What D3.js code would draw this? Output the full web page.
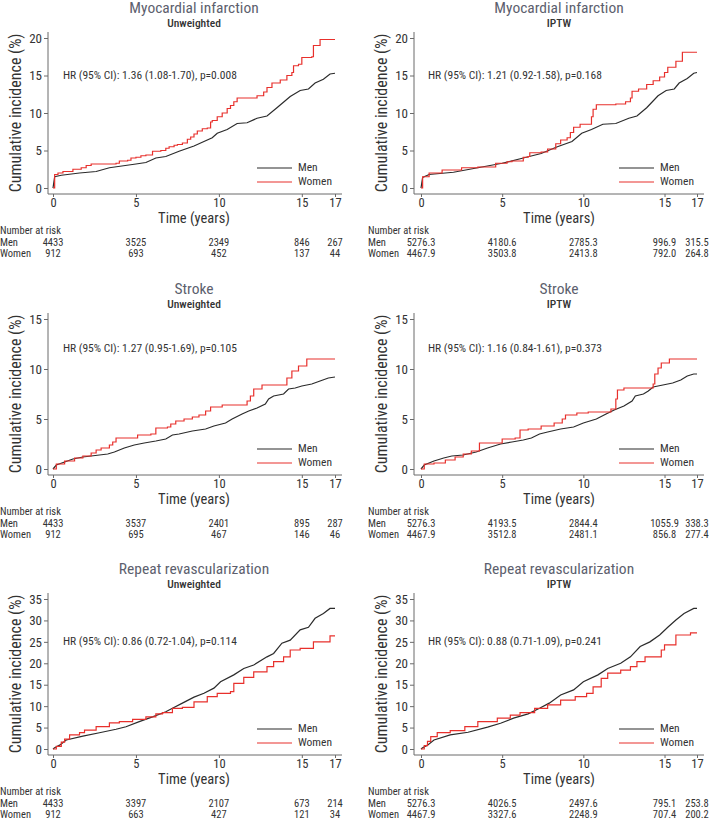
<!DOCTYPE html>
<html><head><meta charset="utf-8">
<script src="https://cdn.jsdelivr.net/npm/d3@7"></script>
<style>
body{margin:0;background:#fff}
text{font-family:"Roboto Condensed","Liberation Sans Narrow","Arial Narrow",Roboto,sans-serif}
</style></head>
<body><svg id="c" width="709" height="820"></svg>
<script>
const groups = ["Men","Women"];
const xTicks = [0,5,10,15,17];
const riskTimes = [0,5,10,15,17];
const titles = ["Myocardial infarction","Stroke","Repeat revascularization"];
const subtitles = ["Unweighted","IPTW"];
const yMaxes = [20,15,35];
const hrTexts = [
  "HR (95% CI): 1.36 (1.08-1.70), p=0.008","HR (95% CI): 1.21 (0.92-1.58), p=0.168",
  "HR (95% CI): 1.27 (0.95-1.69), p=0.105","HR (95% CI): 1.16 (0.84-1.61), p=0.373",
  "HR (95% CI): 0.86 (0.72-1.04), p=0.114","HR (95% CI): 0.88 (0.71-1.09), p=0.241"];
const hrY = [15,12,25];

const miUnwMen = [[0,0],[0.1,1.5],[0.5,1.7],[1.6,2.0],[2.6,2.2],[3.4,2.7],[5.0,3.2],[5.6,3.4],[6.2,4.0],[6.8,4.2],[7.6,4.9],[8.5,5.6],[9.1,6.2],[9.6,6.7],[9.9,7.3],[10.5,7.8],[11.1,8.6],[11.7,8.7],[12.3,9.3],[12.9,9.6],[13.5,10.7],[14.3,12.2],[14.9,13.0],[15.4,13.2],[15.8,14.0],[16.3,14.5],[16.7,15.2],[17,15.3]];
const miUnwWomen = [[0,0],[0.1,1.8],[0.3,2.0],[0.6,2.2],[1.2,2.5],[1.7,2.7],[2.0,3.0],[2.3,3.2],[3.8,3.3],[4.0,3.6],[4.5,3.7],[4.7,4.0],[5.0,4.1],[5.3,4.3],[5.6,4.4],[6.0,4.9],[6.5,5.0],[6.8,5.3],[7.0,5.5],[7.3,5.7],[7.5,5.8],[7.8,6.0],[8.1,6.5],[8.3,6.8],[8.5,7.2],[8.7,7.6],[9.0,7.9],[9.3,8.0],[9.5,8.8],[9.6,9.0],[9.9,9.5],[10.2,10.0],[10.5,10.6],[10.7,11.0],[10.9,11.5],[11.1,12.0],[12.0,12.0],[12.3,12.3],[12.7,12.8],[12.9,13.4],[13.2,14.0],[13.7,14.4],[14.1,15.0],[14.4,15.4],[14.5,16.3],[14.8,16.5],[15.0,17.4],[15.6,17.5],[15.7,19.0],[16.1,19.8],[17,19.8]];
const miIpMen = [[0,0],[0.1,1.4],[0.5,1.8],[2.0,2.1],[3.5,2.7],[5.0,3.3],[6.3,4.0],[7.4,4.6],[8.4,5.5],[9.3,6.2],[9.9,7.3],[10.5,7.8],[11.2,8.5],[12.0,8.6],[12.8,9.3],[13.3,9.6],[13.9,10.7],[14.6,12.3],[15.1,13.0],[15.6,13.2],[15.9,14.0],[16.4,14.6],[16.8,15.3],[17,15.4]];
const miIpWomen = [[0,0],[0.1,1.5],[0.5,2.0],[1.3,2.4],[2.5,2.7],[3.5,2.8],[4.6,3.3],[5.3,3.5],[5.6,3.6],[6.3,4.1],[6.6,4.2],[6.7,4.7],[7.4,4.8],[7.8,5.2],[8.3,5.9],[8.6,6.4],[9.0,6.7],[9.2,7.4],[9.4,8.1],[9.8,8.5],[10.5,9.5],[10.6,10.5],[10.8,11.1],[12.0,11.2],[12.6,11.5],[12.9,12.0],[13.0,12.9],[13.4,13.2],[13.9,13.8],[14.3,14.3],[14.7,14.8],[15.0,15.4],[15.2,16.1],[15.7,16.9],[16.1,18.1],[17,18.1]];
const strUnwMen = [[0,0],[0.2,0.4],[0.7,0.7],[1.2,1.0],[1.8,1.2],[2.8,1.4],[3.3,1.5],[3.7,1.7],[4.3,2.1],[4.9,2.4],[5.5,2.6],[6.2,2.8],[6.8,3.0],[7.2,3.4],[7.6,3.5],[8.4,3.8],[9.2,4.0],[9.7,4.3],[10.4,4.6],[10.8,5.0],[11.4,5.5],[11.8,5.8],[12.3,6.1],[12.8,6.5],[13.0,7.0],[13.3,7.3],[13.9,7.5],[14.2,8.0],[14.6,8.1],[15.0,8.3],[15.6,8.5],[16.1,8.8],[16.6,9.1],[17,9.2]];
const strUnwWomen = [[0,0],[0.2,0.5],[0.7,0.8],[1.3,1.1],[1.8,1.3],[2.3,1.6],[2.6,1.9],[2.9,2.1],[3.4,2.4],[3.6,2.7],[3.8,3.1],[5.1,3.4],[5.9,3.5],[6.2,4.1],[6.9,4.2],[7.1,4.5],[7.4,4.8],[7.9,5.0],[8.4,5.2],[8.8,5.4],[9.2,5.8],[9.5,6.2],[10.2,6.4],[11.7,6.8],[11.9,7.3],[12.1,8.0],[12.6,8.4],[14.1,9.1],[14.4,9.8],[14.8,10.3],[15.3,11.0],[17,11.0]];
const strIpMen = [[0,0],[0.2,0.4],[0.8,0.8],[1.4,1.1],[1.9,1.3],[2.6,1.4],[3.4,1.7],[4.1,2.1],[4.9,2.5],[5.6,2.7],[6.3,2.9],[6.8,3.1],[7.3,3.5],[7.8,3.7],[8.6,4.0],[9.4,4.2],[10.0,4.6],[10.8,5.0],[11.4,5.5],[11.9,5.9],[12.5,6.3],[13.0,6.8],[13.2,7.3],[13.7,7.5],[14.0,7.8],[14.3,8.2],[14.9,8.4],[15.5,8.6],[16.0,8.9],[16.4,9.3],[16.8,9.5],[17,9.5]];
const strIpWomen = [[0,0],[0.2,0.5],[0.8,0.6],[1.5,0.9],[2.1,1.2],[2.6,1.5],[3.1,1.8],[3.6,2.6],[5.0,3.0],[5.8,3.1],[6.1,3.9],[6.6,4.0],[7.4,4.3],[8.2,4.6],[8.7,5.0],[8.9,5.4],[9.6,5.6],[10.3,5.7],[11.7,6.0],[12.0,7.0],[12.1,7.9],[12.5,8.1],[14.3,8.5],[14.4,9.5],[14.6,10.1],[14.8,10.6],[15.3,11.0],[17,11.0]];
const revUnwMen = [[0,0],[0.1,0.3],[0.4,0.9],[0.8,2.1],[1.8,3.0],[2.8,3.8],[3.8,4.6],[4.4,5.2],[5.2,6.4],[6.0,7.5],[6.8,8.7],[7.2,9.5],[7.8,10.7],[8.5,12.1],[9.1,13.0],[9.7,14.2],[10.1,15.7],[10.9,17.3],[11.5,18.8],[12.1,19.6],[12.9,21.5],[13.3,22.3],[13.8,24.7],[14.3,25.4],[14.9,27.8],[15.4,28.4],[15.8,30.5],[16.3,31.6],[16.7,32.8],[17,32.8]];
const revUnwWomen = [[0,0],[0.2,0.6],[0.5,1.6],[0.7,2.3],[1.0,3.3],[1.6,3.8],[1.9,4.4],[2.6,5.2],[3.4,6.1],[4.0,6.4],[4.8,6.9],[5.6,7.5],[6.2,8.2],[6.6,8.5],[7.2,9.5],[7.8,9.7],[8.5,11.0],[9.3,12.2],[9.9,13.0],[10.7,13.4],[10.9,15.3],[11.5,16.7],[12.1,18.0],[12.9,19.2],[13.3,20.4],[13.9,21.5],[14.3,23.1],[14.9,23.5],[15.7,25.0],[16.7,26.4],[17,26.4]];
const revIpMen = [[0,0],[0.1,0.3],[0.4,0.9],[0.8,2.1],[1.8,3.3],[2.9,3.9],[4.1,5.1],[4.9,6.0],[5.7,7.2],[6.6,8.2],[7.3,9.5],[7.9,10.7],[8.6,12.6],[9.4,13.8],[10.0,15.7],[10.9,17.3],[11.5,18.8],[12.3,20.0],[12.9,21.5],[13.5,23.9],[14.1,25.0],[14.7,26.6],[15.2,28.4],[15.7,30.1],[16.2,31.6],[16.8,32.8],[17,32.8]];
const revIpWomen = [[0,0],[0.2,0.8],[0.4,1.8],[0.6,2.9],[1.0,3.8],[1.8,4.3],[2.7,5.2],[3.5,6.4],[4.7,7.2],[5.5,7.9],[6.1,8.5],[7.0,9.5],[7.8,10.3],[8.6,11.4],[9.5,12.2],[10.2,13.0],[10.6,14.5],[11.1,16.5],[11.5,17.7],[12.3,18.4],[12.9,19.2],[13.3,20.4],[13.8,21.5],[14.8,23.1],[15.0,24.3],[15.7,26.6],[16.6,27.1],[17,27.1]];

const miUnwRiskMen = ["4433","3525","2349","846","267"];
const miUnwRiskWomen = ["912","693","452","137","44"];
const miIpRiskMen = ["5276.3","4180.6","2785.3","996.9","315.5"];
const miIpRiskWomen = ["4467.9","3503.8","2413.8","792.0","264.8"];
const strUnwRiskMen = ["4433","3537","2401","895","287"];
const strUnwRiskWomen = ["912","695","467","146","46"];
const strIpRiskMen = ["5276.3","4193.5","2844.4","1055.9","338.3"];
const strIpRiskWomen = ["4467.9","3512.8","2481.1","856.8","277.4"];
const revUnwRiskMen = ["4433","3397","2107","673","214"];
const revUnwRiskWomen = ["912","663","427","121","34"];
const revIpRiskMen = ["5276.3","4026.5","2497.6","795.1","253.8"];
const revIpRiskWomen = ["4467.9","3327.6","2248.9","707.4","200.2"];

const curves = [
  [miUnwMen, miUnwWomen],[miIpMen, miIpWomen],
  [strUnwMen, strUnwWomen],[strIpMen, strIpWomen],
  [revUnwMen, revUnwWomen],[revIpMen, revIpWomen]];
const risks = [
  [miUnwRiskMen, miUnwRiskWomen],[miIpRiskMen, miIpRiskWomen],
  [strUnwRiskMen, strUnwRiskWomen],[strIpRiskMen, strIpRiskWomen],
  [revUnwRiskMen, revUnwRiskWomen],[revIpRiskMen, revIpRiskWomen]];

// layout
const cols = [{x0:53, x1:335, axisX:48, left:0, hrX:0.6},{x0:421, x1:697, axisX:414, left:368, hrX:0.43}];
const rows = [{y0:188, y1:38},{y0:469, y1:319},{y0:749, y1:599}];
const colors = {Men:"#2b2b2b", Women:"#e8302c"};
const axisCol = "#6a6a6a", textCol = "#333";
const FONT = '"Roboto Condensed","Liberation Sans Narrow","Arial Narrow",Roboto,sans-serif';

const svg = d3.select("#c");

rows.forEach((R, ri) => {
  cols.forEach((C, ci) => {
    const idx = ri*2 + ci;
    const g = svg.append("g");
    const x = d3.scaleLinear().domain([0,17]).range([C.x0, C.x1]);
    const y = d3.scaleLinear().domain([0,yMaxes[ri]]).range([R.y0, R.y1]);
    const axisY = R.y0 + 6;

    // titles
    const cx = (C.x0 + C.x1)/2;
    g.append("text").attr("x",cx).attr("y",R.y1-25).attr("text-anchor","middle")
      .attr("font-size",15.5).attr("fill","#5d5f6e").text(titles[ri]);
    g.append("text").attr("x",cx).attr("y",R.y1-11).attr("text-anchor","middle")
      .attr("font-size",11.5).attr("font-weight",500).attr("fill","#333").text(subtitles[ci]);

    // y axis
    const yAx = g.append("g").attr("transform",`translate(${C.axisX},0)`)
      .call(d3.axisLeft(y).tickValues(d3.range(0,yMaxes[ri]+1,5)).tickSize(4).tickPadding(2).tickSizeOuter(0));
    yAx.select(".domain").remove();
    yAx.append("line").attr("x1",0).attr("x2",0).attr("y1",R.y1-6).attr("y2",axisY).attr("stroke",axisCol);
    yAx.selectAll(".tick line").attr("stroke",axisCol);
    yAx.selectAll(".tick text").attr("font-size",13).attr("fill",textCol).style("font-family",FONT);

    // x axis
    const xAx = g.append("g").attr("transform",`translate(0,${axisY})`)
      .call(d3.axisBottom(x).tickValues(xTicks).tickSize(3).tickPadding(1).tickSizeOuter(0));
    xAx.select(".domain").remove();
    xAx.append("line").attr("x1",C.axisX).attr("x2",C.x1+7).attr("y1",0).attr("y2",0).attr("stroke",axisCol);
    xAx.selectAll(".tick line").attr("stroke",axisCol);
    xAx.selectAll(".tick text").attr("font-size",12.5).attr("fill",textCol).style("font-family",FONT);

    // axis titles
    g.append("text").attr("transform",`translate(${C.axisX-31},${(R.y0+R.y1)/2}) rotate(-90)`)
      .attr("text-anchor","middle").attr("dominant-baseline","middle")
      .attr("font-size",16).attr("fill",textCol).text("Cumulative incidence (%)");
    g.append("text").attr("x",cx).attr("y",R.y0+31).attr("text-anchor","middle")
      .attr("dominant-baseline","middle").attr("font-size",14.5).attr("fill",textCol).text("Time (years)");

    // HR text
    g.append("text").attr("x",x(C.hrX)).attr("y",y(hrY[ri])).attr("dominant-baseline","middle")
      .attr("font-size",11.5).attr("fill",textCol).text(hrTexts[idx]);

    // curves
    groups.forEach((grp, gi) => {
      const line = d3.line().x(d=>x(d[0])).y(d=>y(d[1]))
        .curve(gi === 0 ? d3.curveLinear : d3.curveStepAfter);
      g.append("path").datum(curves[idx][gi]).attr("d",line).attr("fill","none")
        .attr("stroke",colors[grp]).attr("stroke-width",1.2);
    });

    // legend
    groups.forEach((grp, gi) => {
      const ly = R.y0 - 20 + gi*14;
      g.append("line").attr("x1",C.x1-78).attr("x2",C.x1-43).attr("y1",ly).attr("y2",ly)
        .attr("stroke",colors[grp]).attr("stroke-width",1.2);
      g.append("text").attr("x",C.x1-37).attr("y",ly).attr("dominant-baseline","middle")
        .attr("font-size",11.5).attr("fill",textCol).text(grp);
    });

    // number at risk
    g.append("text").attr("x",C.left).attr("y",R.y0+43.5).attr("dominant-baseline","middle")
      .attr("font-size",10.5).attr("fill",textCol).text("Number at risk");
    groups.forEach((grp, gi) => {
      const ry = R.y0 + 55 + gi*11.5;
      g.append("text").attr("x",C.left).attr("y",ry).attr("dominant-baseline","middle")
        .attr("font-size",10.5).attr("fill",textCol).text(grp);
      g.selectAll(null).data(risks[idx][gi]).enter().append("text")
        .attr("x",(d,i)=>x(riskTimes[i])).attr("y",ry).attr("text-anchor","middle")
        .attr("dominant-baseline","middle").attr("font-size",10.5).attr("fill",textCol).text(d=>d);
    });
  });
});
</script></body></html>
